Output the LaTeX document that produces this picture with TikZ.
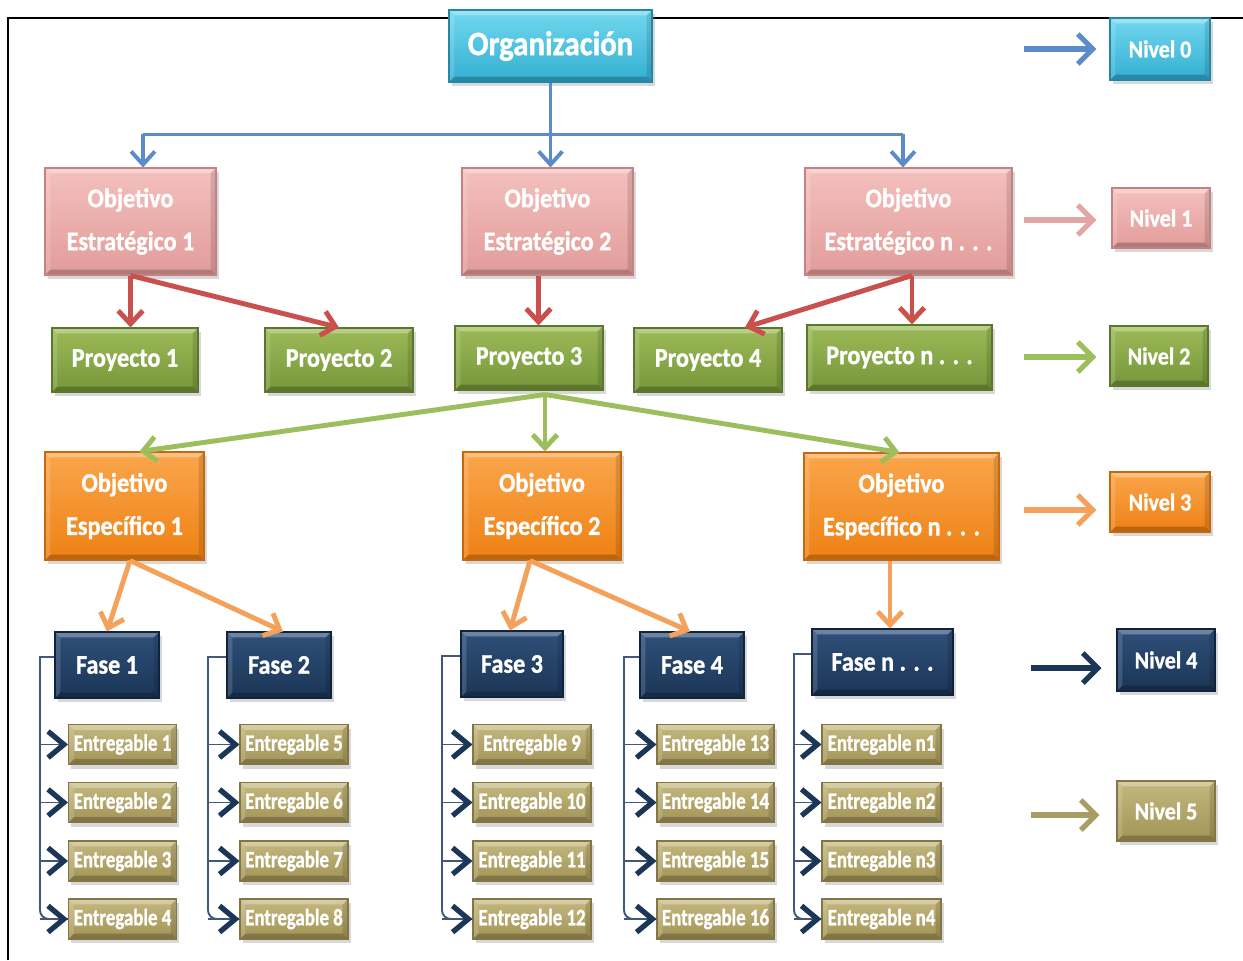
\documentclass[tikz,border=0pt]{standalone}
\usepackage{fontspec}
\setmainfont{Carlito}
\newfontfamily\boxfont{Carlito}[FakeStretch=0.9, BoldFeatures={FakeBold=1.1}]
\newfontfamily\narrowfont{Carlito}[FakeStretch=0.8, BoldFeatures={FakeBold=1.1}]
\usetikzlibrary{arrows.meta,shadows,calc}

% box fills (top / bottom / border)
\definecolor{cyT}{HTML}{72D8EF}\definecolor{cyB}{HTML}{33AFD1}\definecolor{cyD}{HTML}{2387A6}
\definecolor{pkT}{HTML}{F3C0BE}\definecolor{pkB}{HTML}{E29C9A}\definecolor{pkD}{HTML}{C58280}
\definecolor{grT}{HTML}{9CBA57}\definecolor{grB}{HTML}{76963A}\definecolor{grD}{HTML}{5B772B}
\definecolor{orT}{HTML}{FAA64C}\definecolor{orB}{HTML}{EE8114}\definecolor{orD}{HTML}{C4690D}
\definecolor{nvT}{HTML}{2F507A}\definecolor{nvB}{HTML}{1B3556}\definecolor{nvD}{HTML}{10233D}
\definecolor{tnT}{HTML}{C4B87F}\definecolor{tnB}{HTML}{A29456}\definecolor{tnD}{HTML}{837642}
% connector colours
\definecolor{arBlue}{HTML}{5B8CC9}
\definecolor{arRed}{HTML}{C9504D}
\definecolor{arPink}{HTML}{E3A5A4}
\definecolor{arGreen}{HTML}{9DBE5C}
\definecolor{arOrange}{HTML}{F4A15C}
\definecolor{arNavy}{HTML}{1C3657}
\definecolor{arTan}{HTML}{A99D66}
\definecolor{brkLine}{HTML}{42587A}

\tikzset{
  wh/.style 2 args={minimum width=#1*0.02cm, minimum height=#2*0.02cm},
  bevel/.style={path picture={
    \fill[white,opacity=.30] (path picture bounding box.north west) -- (path picture bounding box.north east)
      -- ([shift={(-3pt,-3pt)}]path picture bounding box.north east) -- ([shift={(3pt,-3pt)}]path picture bounding box.north west) -- cycle;
    \fill[white,opacity=.15] (path picture bounding box.north west) -- (path picture bounding box.south west)
      -- ([shift={(3pt,3pt)}]path picture bounding box.south west) -- ([shift={(3pt,-3pt)}]path picture bounding box.north west) -- cycle;
    \fill[black,opacity=.22] (path picture bounding box.south west) -- (path picture bounding box.south east)
      -- ([shift={(-3pt,3pt)}]path picture bounding box.south east) -- ([shift={(3pt,3pt)}]path picture bounding box.south west) -- cycle;
    \fill[black,opacity=.12] (path picture bounding box.north east) -- (path picture bounding box.south east)
      -- ([shift={(-3pt,3pt)}]path picture bounding box.south east) -- ([shift={(-3pt,-3pt)}]path picture bounding box.north east) -- cycle;
  }},
  box/.style={rectangle, inner sep=0pt, text=white, align=center, line width=0.6pt,
    drop shadow={shadow xshift=1.5pt, shadow yshift=-2.5pt, opacity=0.3}, bevel},
  lv0/.style={box, top color=cyT, bottom color=cyB, draw=cyD},
  lv1/.style={box, top color=pkT, bottom color=pkB, draw=pkD},
  lv2/.style={box, top color=grT, bottom color=grB, draw=grD},
  lv3/.style={box, top color=orT, bottom color=orB, draw=orD},
  lv4/.style={box, top color=nvT, bottom color=nvB, draw=nvD},
  lv5/.style={box, top color=tnT, bottom color=tnB, draw=tnD},
  fOrg/.style={font=\boxfont\fontsize{19.5}{22}\selectfont\bfseries},
  fObj/.style={font=\boxfont\fontsize{15.3}{24.5}\selectfont\bfseries},
  fTxt/.style={font=\boxfont\fontsize{15.3}{17}\selectfont\bfseries},
  fNiv/.style={font=\boxfont\fontsize{13.9}{15}\selectfont\bfseries},
  fEnt/.style={font=\narrowfont\fontsize{13.4}{15}\selectfont\bfseries},
  bl/.style={draw=arBlue, line width=2.2pt},
  btip/.style={-{Straight Barb[length=7.5pt,width=13.5pt]}},
  conn/.style={line width=2.8pt, -{Straight Barb[length=7.5pt,width=14pt]}},
  lvarrow/.style={line width=3pt, -{Straight Barb[length=8.5pt,width=17pt]}},
  brk/.style={draw=brkLine, line width=1.1pt},
  chev/.style={-{Straight Barb[color=arNavy,line width=3pt,length=9pt,width=15pt]}},
}

\begin{document}
\begin{tikzpicture}[x=0.02cm, y=-0.02cm]
\fill[white] (0,0) rectangle (1243,960);
\useasboundingbox (0,0) rectangle (1243,960);

% frame
\draw[line width=1.7pt] (8,960) -- (8,18) -- (1243,18);

% level 0
\node[lv0, wh={203}{72}, fOrg] (org) at (550.5,46) {Organización};
\node[lv0, wh={100}{62}, fNiv] (n0) at (1160,49) {Nivel 0};

% level 1
\node[lv1, wh={171}{107}, fObj] (oe1) at (130.5,221.5) {Objetivo\\Estratégico 1};
\node[lv1, wh={171}{107}, fObj] (oe2) at (547.5,221.5) {Objetivo\\Estratégico 2};
\node[lv1, wh={207}{107}, fObj] (oen) at (908.5,221.5) {Objetivo\\Estratégico n . . .};
\node[lv1, wh={98}{60}, fNiv] (n1) at (1161,218) {Nivel 1};

% level 2
\node[lv2, wh={146}{64}, fTxt] (p1) at (125,360) {Proyecto 1};
\node[lv2, wh={148}{64}, fTxt] (p2) at (339,360) {Proyecto 2};
\node[lv2, wh={148}{64}, fTxt] (p3) at (529,358) {Proyecto 3};
\node[lv2, wh={148}{64}, fTxt] (p4) at (708,360) {Proyecto 4};
\node[lv2, wh={185}{65}, fTxt] (pn) at (899.5,357.5) {Proyecto n . . .};
\node[lv2, wh={98}{60}, fNiv] (n2) at (1159,356) {Nivel 2};

% level 3
\node[lv3, wh={159}{108}, fObj] (e1) at (124.5,506) {Objetivo\\Específico 1};
\node[lv3, wh={158}{108}, fObj] (e2) at (542,506) {Objetivo\\Específico 2};
\node[lv3, wh={195}{107}, fObj] (en) at (901.5,506.5) {Objetivo\\Específico n . . .};
\node[lv3, wh={100}{60}, fNiv] (n3) at (1160,502) {Nivel 3};

% level 4
\node[lv4, wh={104}{66}, fTxt] (f1) at (107,665) {Fase 1};
\node[lv4, wh={104}{66}, fTxt] (f2) at (279,665) {Fase 2};
\node[lv4, wh={102}{66}, fTxt] (f3) at (512,664) {Fase 3};
\node[lv4, wh={104}{66}, fTxt] (f4) at (692,665) {Fase 4};
\node[lv4, wh={141}{66}, fTxt] (f5) at (882.5,662) {Fase n . . .};
\node[lv4, wh={98}{62}, fNiv] (n4) at (1166,660) {Nivel 4};

% level 5
\foreach \r/\y/\a/\b/\c/\d/\e in {1/744.5/1/5/9/13/n1, 2/802.5/2/6/10/14/n2,
                                   3/861/3/7/11/15/n3, 4/919/4/8/12/16/n4} {
  \node[lv5, wh={108}{40}, fEnt] (d1\r) at (122.5,\y) {Entregable \a};
  \node[lv5, wh={108}{40}, fEnt] (d2\r) at (294,\y)   {Entregable \b};
  \node[lv5, wh={118}{40}, fEnt] (d3\r) at (532,\y)   {Entregable \c};
  \node[lv5, wh={117}{40}, fEnt] (d4\r) at (715.5,\y) {Entregable \d};
  \node[lv5, wh={119}{40}, fEnt] (d5\r) at (881.5,\y) {Entregable \e};
}
\node[lv5, wh={98}{60}, fNiv] (n5) at (1166,811) {Nivel 5};

% organisation -> strategic objectives
\coordinate (hL) at ($(oe1.north)+(12.5,-33)$);
\coordinate (hR) at ($(oen.north)+(-5.5,-33)$);
\draw[bl] (hL) -- (hR);
\draw[bl, btip] (org.south) -- (org.south |- oe2.north);
\draw[bl, btip] (hL) -- (hL |- oe1.north);
\draw[bl, btip] (hR) -- (hR |- oen.north);

% strategic objectives -> projects
\draw[conn, arRed] (oe1.south) -- (oe1.south |- p1.north);
\draw[conn, arRed] (oe1.south) -- (p2.north);
\draw[conn, arRed] ($(oe2.south)+(-9,0)$) -- ($(oe2.south |- p3.north)+(-9,0)$);
\coordinate (rn) at ($(oen.south)+(3.5,0)$);
\draw[conn, arRed] (rn) -- ($(p4.north)+(37,0)$);
\draw[conn, arRed] (rn) -- (rn |- pn.north);

% project 3 -> specific objectives
\coordinate (gj) at ($(p3.south)+(16,4)$);
\draw[conn, arGreen] (gj) -- ($(e1.north)+(15,0)$);
\draw[conn, arGreen] (gj) -- (gj |- e2.north);
\draw[conn, arGreen] (gj) -- ($(en.north)+(-2,0)$);

% specific objectives -> phases
\coordinate (o1) at ($(e1.south)+(5.5,0)$);
\coordinate (o2) at ($(e2.south)+(-12,0)$);
\coordinate (o3) at ($(en.south)+(-11.5,0)$);
\draw[conn, arOrange] (o1) -- (f1.north);
\draw[conn, arOrange] (o1) -- ($(f2.north)+(4,0)$);
\draw[conn, arOrange] (o2) -- ($(f3.north)+(-2,0)$);
\draw[conn, arOrange] (o2) -- ($(f4.north)+(-2,0)$);
\draw[conn, arOrange] (o3) -- (o3 |- f5.north);

% phases -> deliverables
\foreach \k/\bx in {1/40, 2/208, 3/442, 4/624, 5/794} {
  \coordinate (b\k) at (\bx,0);
  \draw[brk] ([yshift=4.5pt]f\k.west) -| (b\k |- d\k3.west);
  \draw[brk, rounded corners=5pt] (b\k |- d\k3.west) -- (b\k |- d\k4.west) -- (d\k4.west);
  \draw[brk, chev] (b\k |- d\k4.west) -- (d\k4.west);
  \foreach \r in {1,2,3} {
    \draw[brk, chev] (b\k |- d\k\r.west) -- (d\k\r.west);
  }
}

% legend arrows
\draw[lvarrow, arBlue]   ($(n0.west)+(-85,0)$) -- ($(n0.west)+(-13,0)$);
\draw[lvarrow, arPink]   ($(n1.west)+(-87,2)$) -- ($(n1.west)+(-15,2)$);
\draw[lvarrow, arGreen]  ($(n2.west)+(-85,1)$) -- ($(n2.west)+(-13,1)$);
\draw[lvarrow, arOrange] ($(n3.west)+(-85,8)$) -- ($(n3.west)+(-13,8)$);
\draw[lvarrow, arNavy]   ($(n4.west)+(-85,8)$) -- ($(n4.west)+(-15,8)$);
\draw[lvarrow, arTan]    ($(n5.west)+(-85,4)$) -- ($(n5.west)+(-17,4)$);
\end{tikzpicture}
\end{document}
